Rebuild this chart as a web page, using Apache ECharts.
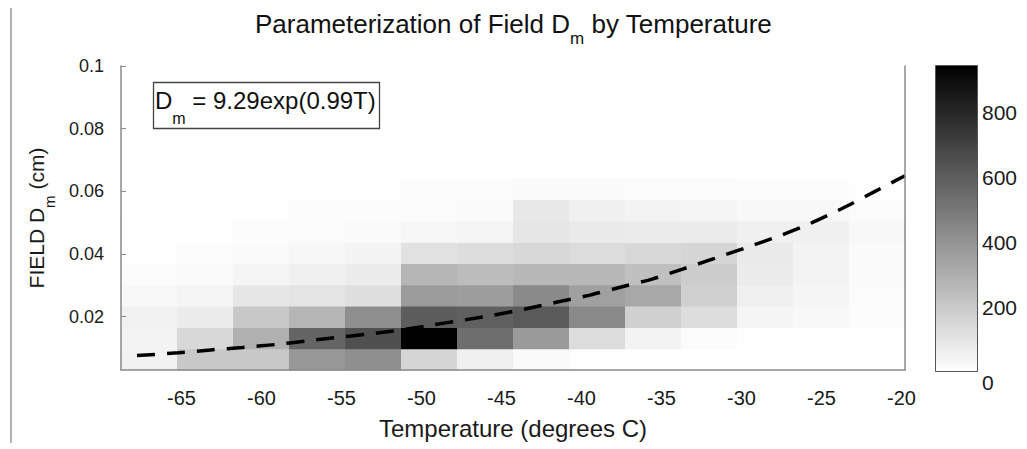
<!DOCTYPE html>
<html>
<head>
<meta charset="utf-8">
<script src="https://cdn.jsdelivr.net/npm/echarts@6/dist/echarts.min.js"></script>
<style>html,body{margin:0;padding:0;background:#fff}#c{width:1027px;height:449px}#err{position:absolute;left:0;top:0;font:11px monospace;white-space:pre;color:red}</style>
</head>
<body>
<div id="c"></div><div id="err"></div>
<script>
// ---- data ----
const tempEdges = [-69, -65.5, -62, -58.5, -55, -51.5, -48, -44.5, -41, -37.5, -34, -30.5, -27, -23.5, -20];
const dmEdges = [0.003, 0.0098, 0.0166, 0.0234, 0.0302, 0.037, 0.0438, 0.0506, 0.0574, 0.0642];
// counts: rows bottom -> top (D_m bins), columns left -> right (temperature bins)
const counts = [
  [50, 205, 205, 380, 415, 155, 55, 18, 5, 0, 0, 0, 0, 0],
  [44, 145, 293, 570, 650, 940, 537, 374, 130, 44, 15, 5, 5, 0],
  [52, 70, 205, 274, 420, 600, 589, 611, 434, 174, 125, 37, 26, 10],
  [26, 37, 88, 100, 120, 370, 360, 434, 352, 322, 174, 56, 37, 15],
  [10, 18, 37, 56, 70, 270, 250, 263, 263, 233, 185, 70, 44, 18],
  [5, 10, 20, 30, 40, 110, 125, 145, 130, 145, 156, 78, 44, 20],
  [5, 5, 10, 15, 20, 30, 37, 93, 78, 70, 70, 56, 56, 26],
  [0, 0, 5, 10, 10, 15, 20, 85, 56, 44, 37, 26, 26, 15],
  [0, 0, 0, 5, 5, 10, 10, 20, 20, 15, 15, 10, 10, 5]
];
const fitT  = [-68, -65.4, -63.4, -61.4, -59.4, -57.5, -55.5, -53.5, -51.7, -49.5, -47.5, -45.7, -43.8, -41.8, -39.7, -37.8, -35.8, -33.9, -31.9, -29.9, -27.9, -25.9, -23.9, -21.9, -20];
const fitDm = [0.0076, 0.0085, 0.0094, 0.0102, 0.0111, 0.0122, 0.0134, 0.0145, 0.0156, 0.0174, 0.019, 0.0205, 0.0224, 0.0246, 0.0269, 0.0294, 0.032, 0.0352, 0.0386, 0.0421, 0.0457, 0.0498, 0.0546, 0.0599, 0.065];
const xTicks = [-65, -60, -55, -50, -45, -40, -35, -30, -25, -20];
const yTicks = [0.02, 0.04, 0.06, 0.08, 0.1];
const colorLimits = [0, 945];
const colorTicks = [0, 200, 400, 600, 800];

// ---- build ----
const cells = [];
counts.forEach((row, j) => row.forEach((v, i) => {
  cells.push([tempEdges[i], tempEdges[i + 1], dmEdges[j], dmEdges[j + 1], v]);
}));
const fitData = fitT.map((t, k) => [t, fitDm[k]]);

const FONT = '"Liberation Sans", Arial, Helvetica, sans-serif';
const TXT = '#1a1a1a';
const AX = '#8a8a8a';

try {
const chart = echarts.init(document.getElementById('c'), null, {renderer: 'svg'});
chart.setOption({
  animation: false,
  backgroundColor: '#fff',
  title: [
    {
      text: '{t|Parameterization of Field D}{s|m}{t| by Temperature}',
      left: 'center', top: 11, padding: 0,
      textStyle: {
        fontWeight: 'normal',
        rich: {
          t: {fontFamily: FONT, fontSize: 26, fontWeight: 'normal', color: '#111', lineHeight: 28, verticalAlign: 'top'},
          s: {fontFamily: FONT, fontSize: 17, fontWeight: 'normal', color: '#111', lineHeight: 18, padding: [19, 0, 0, 0], verticalAlign: 'top'}
        }
      }
    },
    {
      text: '{t|D}{s|m}{t| = 9.29exp(0.99T)}',
      left: 153, top: 82, padding: [6, 4, 3, 2],
      borderColor: '#444', borderWidth: 1.3,
      textStyle: {
        fontWeight: 'normal',
        rich: {
          t: {fontFamily: FONT, fontSize: 24, fontWeight: 'normal', color: '#111', lineHeight: 28, verticalAlign: 'top'},
          s: {fontFamily: FONT, fontSize: 16, fontWeight: 'normal', color: '#111', lineHeight: 18, padding: [22, 0, 0, 0], verticalAlign: 'top'}
        }
      }
    }
  ],
  grid: [
    {left: 121, right: 122, top: 66, bottom: 79},
    {left: 935, top: 65, width: 43, height: 307}
  ],
  visualMap: {
    show: false, seriesIndex: 0, dimension: 4,
    min: colorLimits[0], max: colorLimits[1],
    inRange: {color: ['#ffffff', '#000000']}
  },
  xAxis: [
    {
      type: 'value', gridIndex: 0, min: tempEdges[0], max: tempEdges[tempEdges.length - 1], z: 10,
      axisLine: {show: true, onZero: false, lineStyle: {color: AX, width: 1.5}},
      axisTick: {show: false},
      splitLine: {show: false},
      axisLabel: {customValues: xTicks, fontFamily: FONT, fontSize: 20, color: TXT, margin: 18, padding: [0, 7, 0, 0]},
      name: 'Temperature (degrees C)', nameLocation: 'middle', nameGap: 46,
      nameTextStyle: {fontFamily: FONT, fontSize: 24, color: TXT}
    },
    {type: 'category', gridIndex: 1, data: ['bar'], show: false}
  ],
  yAxis: [
    {
      type: 'value', gridIndex: 0, min: dmEdges[0], max: yTicks[yTicks.length - 1], z: 10,
      axisLine: {show: true, onZero: false, lineStyle: {color: AX, width: 1.5}},
      axisTick: {show: true, inside: true, length: 5, customValues: yTicks, lineStyle: {color: AX}},
      splitLine: {show: false},
      axisLabel: {customValues: yTicks, fontFamily: FONT, fontSize: 18, color: TXT, margin: 17},
      name: '{t|FIELD D}{s|m}{t| (cm)}', nameLocation: 'middle', nameRotate: 90, nameGap: 71,
      nameTextStyle: {
        rich: {
          t: {fontFamily: FONT, fontSize: 21, color: TXT, lineHeight: 24, verticalAlign: 'top'},
          s: {fontFamily: FONT, fontSize: 15, color: TXT, lineHeight: 16, padding: [16, 0, 0, 0], verticalAlign: 'top'}
        }
      }
    },
    {
      type: 'value', gridIndex: 0, position: 'right', min: dmEdges[0], max: yTicks[yTicks.length - 1], z: 10,
      axisLine: {show: true, onZero: false, lineStyle: {color: AX, width: 1.5}},
      axisTick: {show: false}, axisLabel: {show: false}, splitLine: {show: false}
    },
    {
      type: 'value', gridIndex: 1, position: 'right', min: colorLimits[0], max: colorLimits[1],
      axisLine: {show: false}, axisTick: {show: false}, splitLine: {show: false},
      axisLabel: {customValues: colorTicks, fontFamily: FONT, fontSize: 21, color: TXT, margin: 4, verticalAlignMinLabel: 'top'}
    }
  ],
  series: [
    {
      type: 'custom', xAxisIndex: 0, yAxisIndex: 0, silent: true,
      encode: {x: [0, 1], y: [2, 3]},
      data: cells,
      renderItem: function (params, api) {
        const p0 = api.coord([api.value(0), api.value(3)]);
        const p1 = api.coord([api.value(1), api.value(2)]);
        return {
          type: 'rect',
          shape: {x: p0[0], y: p0[1], width: p1[0] - p0[0] + 0.5, height: p1[1] - p0[1] + 0.5},
          style: {fill: api.visual('color')}
        };
      }
    },
    {
      type: 'line', xAxisIndex: 0, yAxisIndex: 0, data: fitData, showSymbol: false, silent: true,
      smooth: 0.2, z: 5,
      lineStyle: {color: '#000', width: 3.5, type: [18, 12]}
    },
    {
      type: 'bar', xAxisIndex: 1, yAxisIndex: 2, data: [colorLimits[1]], barWidth: '100%', silent: true,
      itemStyle: {
        color: new echarts.graphic.LinearGradient(0, 0, 0, 1, [{offset: 0, color: '#000'}, {offset: 1, color: '#fff'}]),
        borderColor: '#555', borderWidth: 1
      }
    }
  ],
  graphic: [
    {type: 'line', shape: {x1: 11, y1: 8, x2: 11, y2: 443}, style: {stroke: '#9a9a9a', lineWidth: 1.5}, silent: true}
  ]
});
} catch (e) {
  document.getElementById('err').textContent = String(e && e.stack || e);
}
</script>
</body>
</html>
